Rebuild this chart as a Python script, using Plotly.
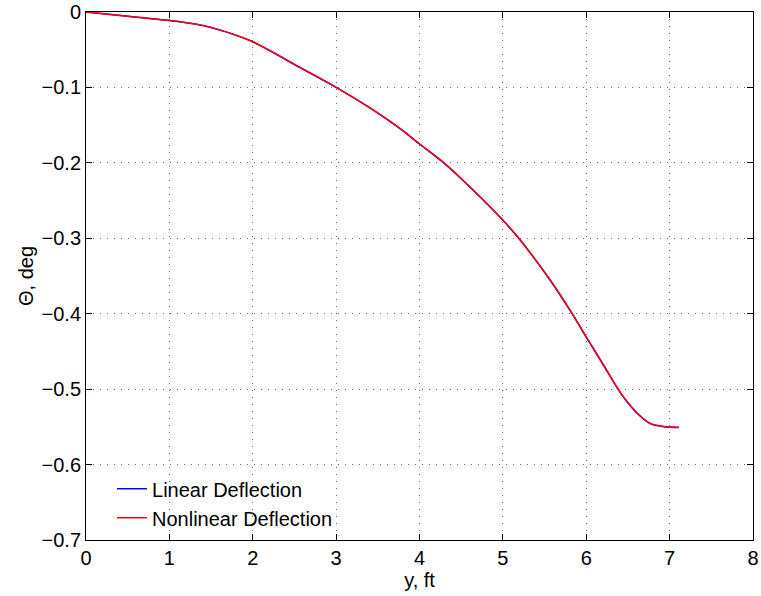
import plotly.graph_objects as go

# Span position (ft) and twist angle (deg)
y_ft = [0, 0.5, 1.0, 1.25, 1.5, 1.75, 2.0, 2.25, 2.5, 3.0, 3.5, 3.77, 4.0, 4.29, 4.5, 5.0, 5.19,
        5.57, 5.83, 6.0, 6.2, 6.38, 6.47, 6.61, 6.77, 6.93, 7.11]
theta_linear = [0, -0.0055, -0.0113, -0.015, -0.0205, -0.029, -0.0395, -0.054, -0.0696, -0.100,
                -0.134, -0.155, -0.175, -0.200, -0.221, -0.276, -0.300, -0.356, -0.400,
                -0.431, -0.467, -0.500, -0.514, -0.532, -0.546, -0.550, -0.551]
theta_nonlinear = [0, -0.0055, -0.0112, -0.0149, -0.0204, -0.0289, -0.0394, -0.0538, -0.0694,
                   -0.0998, -0.1337, -0.1547, -0.1747, -0.1997, -0.2207, -0.2757, -0.2997,
                   -0.3557, -0.3996, -0.4306, -0.4666, -0.4996, -0.5136, -0.5316, -0.5456,
                   -0.5496, -0.5506]

x_ticks = [0, 1, 2, 3, 4, 5, 6, 7, 8]
y_ticks = [0, -0.1, -0.2, -0.3, -0.4, -0.5, -0.6, -0.7]

font_family = "Liberation Sans, Arial, Helvetica, sans-serif"
fsize = 20

fig = go.Figure()
fig.add_trace(go.Scatter(x=y_ft, y=theta_linear, mode="lines", name="Linear Deflection",
                         line=dict(color="#0000ff", width=1.5, shape="spline", smoothing=0.8)))
fig.add_trace(go.Scatter(x=y_ft, y=theta_nonlinear, mode="lines", name="Nonlinear Deflection",
                         line=dict(color="#ff0000", width=1.5, shape="spline", smoothing=0.8)))

axis_common = dict(
    showline=True, linecolor="black", linewidth=1, mirror="ticks",
    ticks="inside", ticklen=6, tickwidth=1, tickcolor="black",
    showgrid=True, gridcolor="#666666", gridwidth=1, griddash="1px,6px",
    zeroline=False, automargin=False,
    tickfont=dict(family=font_family, size=fsize, color="black"),
)

fig.update_xaxes(range=[0, 8], tickvals=x_ticks, ticktext=[str(v) for v in x_ticks],
                 title=dict(text="y, ft", font=dict(family=font_family, size=fsize, color="black"),
                            standoff=0),
                 **axis_common)
fig.update_yaxes(range=[-0.7, 0], tickvals=y_ticks,
                 ticktext=["0" if v == 0 else "\u2212" + f"{abs(v):.1f}" for v in y_ticks],
                 title=dict(text="\u0398, deg", font=dict(family=font_family, size=fsize, color="black"),
                            standoff=2),
                 **axis_common)

fig.update_layout(
    width=761, height=596,
    margin=dict(l=86, r=8, t=12, b=56),
    plot_bgcolor="white", paper_bgcolor="white",
    font=dict(family=font_family, size=fsize, color="black"),
    showlegend=True,
    legend=dict(x=0.039, y=0.005, xanchor="left", yanchor="bottom",
                bgcolor="rgba(255,255,255,0)", borderwidth=0,
                font=dict(family=font_family, size=fsize, color="black"),
                tracegroupgap=0),
)

fig.write_html("out.html",
               config={"displayModeBar": False},
               post_script="document.body.style.margin='0px';document.body.style.overflow='hidden';")
